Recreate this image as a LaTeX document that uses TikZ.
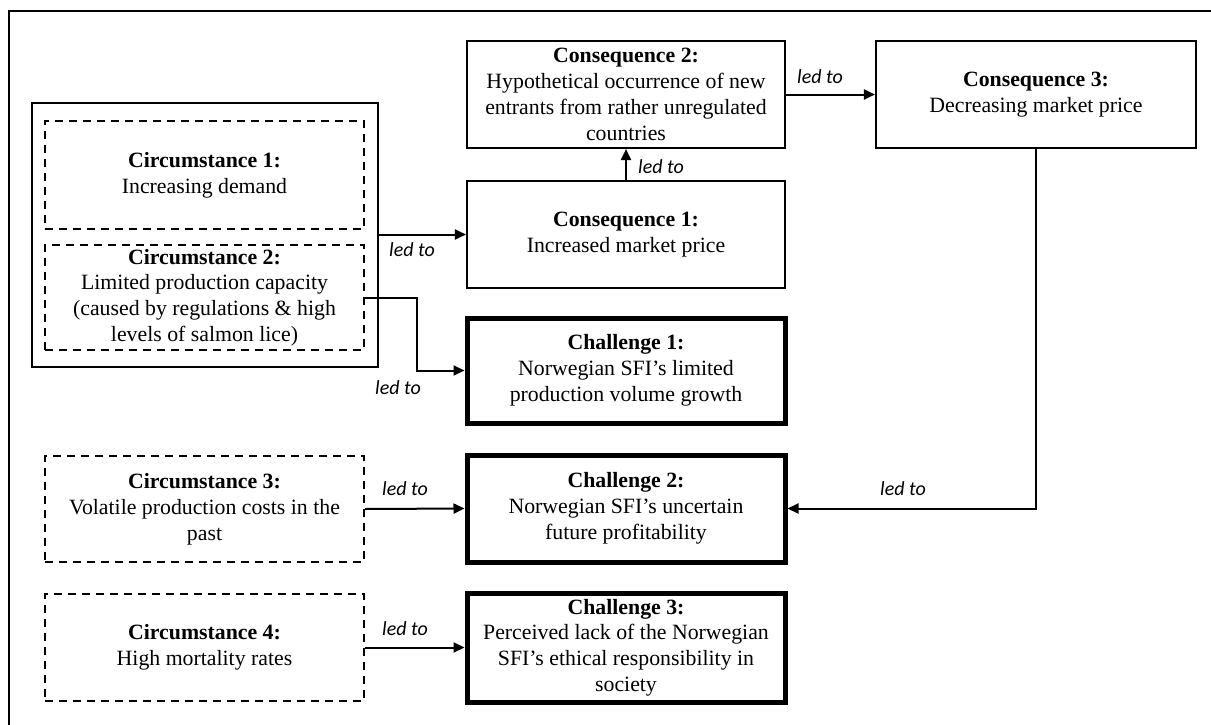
\documentclass[tikz,border=0pt]{standalone}
\usepackage{fontspec}
\setmainfont{Liberation Serif}
\newfontfamily\ledfont{Carlito}
\usetikzlibrary{arrows.meta}

\tikzset{
  txt/.style={font=\fontsize{21.8}{25.8}\selectfont, align=center, inner sep=0pt},
  solidbox/.style={txt, draw, line width=2.1pt},
  dashbox/.style={txt, draw, line width=2pt, dash pattern=on 8pt off 6pt},
  challengebox/.style={txt, draw, line width=5pt},
  arr/.style={line width=2pt, -{Triangle[length=11pt,width=10pt]}},
  ledlabel/.style={font=\fontsize{20}{23}\selectfont\ledfont\itshape, inner sep=0pt},
}

\begin{document}
\begin{tikzpicture}[x=1pt,y=-1pt]
\useasboundingbox (0,0) rectangle (1211,724);

% frame
\draw[line width=1.6pt] (9,730) -- (9,11) -- (1220,11);

% group of the first two circumstances
\node[solidbox, minimum width=346pt, minimum height=264pt] (grp) at (205,235) {};

% circumstances
\node[dashbox, minimum width=319pt, minimum height=108pt] (cir1) at (204.5,175)
  {\textbf{Circumstance 1:}\\Increasing demand};
\node[dashbox, minimum width=319pt, minimum height=105pt] (cir2) at (204.5,297.5)
  {\textbf{Circumstance 2:}\\Limited production capacity\\(caused by regulations \& high\\levels of salmon lice)};
\node[dashbox, minimum width=319pt, minimum height=106pt] (cir3) at (204.5,509)
  {\textbf{Circumstance 3:}\\Volatile production costs in the\\past};
\node[dashbox, minimum width=319pt, minimum height=107pt] (cir4) at (204.5,647.5)
  {\textbf{Circumstance 4:}\\High mortality rates};

% consequences
\node[solidbox, minimum width=318pt, minimum height=107pt] (con2) at (626,94.5)
  {\textbf{Consequence 2:}\\Hypothetical occurrence of new\\entrants from rather unregulated\\countries};
\node[solidbox, minimum width=318pt, minimum height=107pt] (con1) at (626,234.5)
  {\textbf{Consequence 1:}\\Increased market price};
\node[solidbox, minimum width=320pt, minimum height=107pt] (con3) at (1036,94.5)
  {\textbf{Consequence 3:}\\Decreasing market price};

% challenges
\node[challengebox, minimum width=318pt, minimum height=105pt] (ch1) at (626,370.5)
  {\textbf{Challenge 1:}\\Norwegian SFI's limited\\production volume growth};
\node[challengebox, minimum width=318pt, minimum height=107pt] (ch2) at (626,508.5)
  {\textbf{Challenge 2:}\\Norwegian SFI's uncertain\\future profitability};
\node[challengebox, minimum width=318pt, minimum height=109pt] (ch3) at (626,647.5)
  {\textbf{Challenge 3:}\\Perceived lack of the Norwegian\\SFI's ethical responsibility in\\society};

% connectors
\draw[arr] (grp.east |- con1.west) -- (con1.west);
\draw[arr] (con1.north) -- (con2.south);
\draw[arr] (con2.east) -- (con3.west);
\draw[arr] (cir2.east) -- ++(52,0) |- (ch1.west);
\draw[arr] (con3.south) |- (ch2.east);
\draw[arr] (cir3.east) -- (ch2.west);
\draw[arr] (cir4.east) -- (ch3.west);

% connector labels
\node[ledlabel] (l1) at (412,250) {led to};
\node[ledlabel] (l2) at (661,167) {led to};
\node[ledlabel] (l3) at (820,77) {led to};
\node[ledlabel] (l4) at (398,388) {led to};
\node[ledlabel] (l5) at (903,489) {led to};
\node[ledlabel] (l6) at (405,489) {led to};
\node[ledlabel] (l7) at (405,629) {led to};
\end{tikzpicture}
\end{document}
